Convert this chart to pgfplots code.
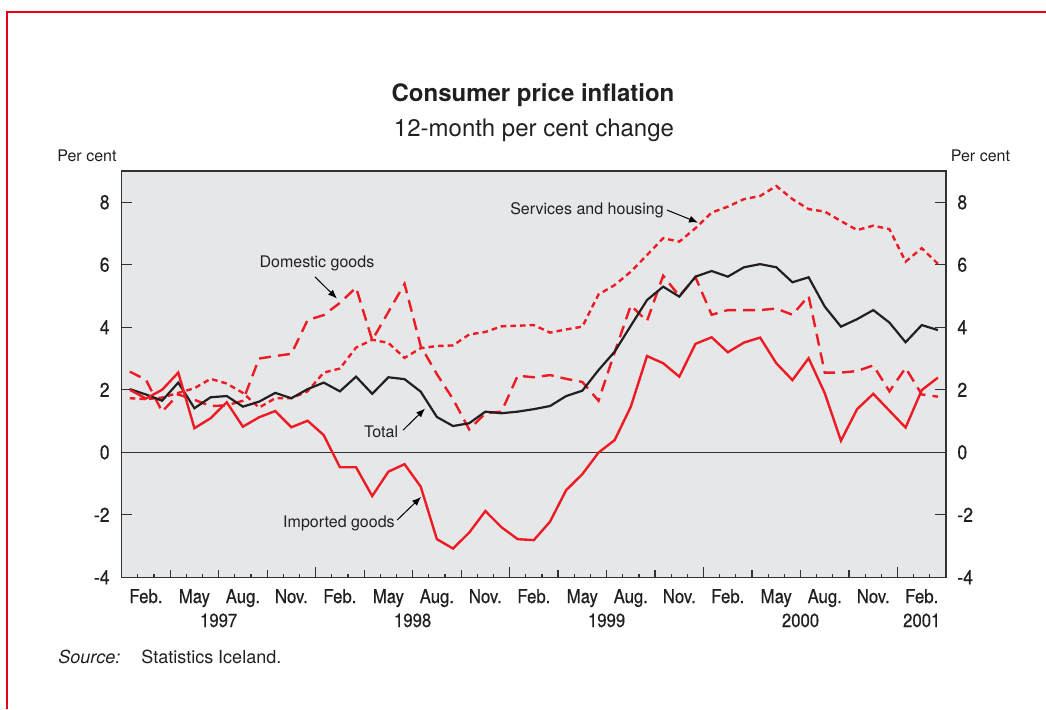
\documentclass[border=0pt]{standalone}
\usepackage{pgfplots}
\usepackage{pgfplotstable}
\pgfplotsset{compat=1.18}
\usepackage{fontspec}
\setmainfont{TeX Gyre Heros}
\newfontfamily\tickfont[FakeStretch=0.88,FakeBold=0.5]{TeX Gyre Heros}
\usetikzlibrary{arrows.meta}
\definecolor{cpired}{RGB}{237,28,36}
\definecolor{bggray}{RGB}{230,231,233}
\definecolor{axisgray}{RGB}{50,50,50}
\definecolor{linegray}{RGB}{35,31,32}
\definecolor{framered}{RGB}{230,0,18}

\pgfplotstableread{
m imp tot ser dom
0 2.00 2.02 1.73 2.58
1 1.72 1.85 1.70 2.32
2 2.00 1.65 1.75 1.30
3 2.55 2.23 1.90 1.85
4 0.77 1.41 2.05 1.68
5 1.09 1.76 2.35 1.48
6 1.60 1.80 2.20 1.50
7 0.82 1.46 1.90 1.65
8 1.12 1.62 1.43 3.00
9 1.32 1.90 1.73 3.08
10 0.80 1.73 1.73 3.15
11 1.01 2.02 1.95 4.23
12 0.55 2.23 2.55 4.39
13 -0.48 1.95 2.68 4.78
14 -0.48 2.42 3.35 5.27
15 -1.40 1.87 3.60 3.59
16 -0.62 2.40 3.50 4.49
17 -0.38 2.34 3.02 5.39
18 -1.10 1.94 3.33 3.40
19 -2.78 1.13 3.40 2.50
20 -3.08 0.84 3.42 1.70
21 -2.57 0.93 3.77 0.73
22 -1.88 1.30 3.85 1.25
23 -2.40 1.25 4.03 1.30
24 -2.78 1.30 4.05 2.45
25 -2.81 1.38 4.07 2.40
26 -2.22 1.48 3.83 2.47
27 -1.21 1.80 3.93 2.35
28 -0.70 1.97 4.02 2.25
29 -0.01 2.63 5.05 1.65
30 0.39 3.22 5.35 3.20
31 1.46 4.05 5.78 4.70
32 3.08 4.87 6.31 4.20
33 2.85 5.30 6.85 5.65
34 2.42 4.98 6.74 5.00
35 3.47 5.62 7.17 5.60
36 3.68 5.80 7.67 4.40
37 3.20 5.62 7.86 4.55
38 3.51 5.92 8.10 4.55
39 3.67 6.02 8.20 4.55
40 2.85 5.92 8.52 4.60
41 2.31 5.44 8.10 4.40
42 3.01 5.60 7.78 5.00
43 1.89 4.66 7.70 2.55
44 0.37 4.02 7.40 2.55
45 1.38 4.26 7.11 2.60
46 1.87 4.55 7.25 2.78
47 1.33 4.15 7.14 1.95
48 0.79 3.52 6.10 2.70
49 1.99 4.07 6.53 1.85
50 2.39 3.91 6.03 1.78
}\cpidata

\begin{document}
\begin{tikzpicture}[x=0.5pt,y=0.5pt,
  lab/.style={font=\tickfont\fontsize{9.5}{11}\selectfont, anchor=base, inner sep=0pt, text=linegray},
  ann/.style={font=\fontsize{8}{10}\selectfont, inner sep=0pt, text=linegray},
  arr/.style={-{Latex[length=4.5pt,width=3.5pt]}, line width=0.5pt, black}]
\path[use as bounding box] (0,0) rectangle (1046,709);
\draw[framered, line width=1.1pt] (7,0) -- (7,697) -- (1046,697);

\node[anchor=base, inner sep=0pt, text=linegray, font=\bfseries\fontsize{12}{14}\selectfont] at (533,608) {Consumer price inflation};
\node[anchor=base, inner sep=0pt, text=linegray, font=\fontsize{12}{14}\selectfont] at (534,573) {12-month per cent change};
\node[anchor=base west, inner sep=0pt, text=linegray, font=\fontsize{8}{10}\selectfont] at (57,547.5) {Per cent};
\node[anchor=base west, inner sep=0pt, text=linegray, font=\fontsize{8}{10}\selectfont] at (950.5,547.5) {Per cent};
\node[anchor=base west, inner sep=0pt, text=linegray, font=\itshape\fontsize{9}{11}\selectfont] at (58,46) {Source:};
\node[anchor=base west, inner sep=0pt, text=linegray, font=\fontsize{9}{11}\selectfont] at (141,46) {Statistics Iceland.};

\begin{axis}[
  at={(60.85pt,65.85pt)}, anchor=south west,
  scale only axis, width=412.15pt, height=203.15pt,
  xmin=0, xmax=51, ymin=-4, ymax=9,
  clip=false,
  axis background/.style={fill=bggray},
  axis line style={axisgray, line width=0.7pt},
  every tick/.style={axisgray, line width=0.6pt},
  tick align=inside,
  xtick={12,24,36,48}, xticklabels={},
  minor xtick={1,...,50},
  extra x ticks={3,6,9,15,18,21,27,30,33,39,42,45},
  extra x tick labels={},
  extra x tick style={major tick length=3.5pt},
  major tick length=5.3pt, minor tick length=1.8pt,
  xtick pos=bottom,
  ytick={-4,-2,0,2,4,6,8},
  yticklabels={-4,-2,0,2,4,6,8},
  ytick pos=both,
  yticklabel pos=left,
  y tick label style={font=\tickfont\fontsize{10}{12}\selectfont, text=linegray, inner sep=0pt, anchor=east, xshift=-5.85pt},
]
\draw[axisgray, line width=0.6pt] (axis cs:0,0) -- (axis cs:51,0);

\addplot[cpired, line width=1.2pt, dash pattern=on 2.8pt off 2pt] table[x expr=\thisrow{m}+0.5,y=ser] {\cpidata};
\addplot[cpired, line width=1.2pt, dash pattern=on 6pt off 3.5pt] table[x expr=\thisrow{m}+0.5,y=dom] {\cpidata};
\addplot[linegray, line width=1.1pt] table[x expr=\thisrow{m}+0.5,y=tot] {\cpidata};
\addplot[cpired, line width=1.2pt] table[x expr=\thisrow{m}+0.5,y=imp] {\cpidata};

\node[ann] at (axis cs:28.79,7.75) {Services and housing};
\draw[arr] (axis cs:33.74,7.75) -- (axis cs:35.66,7.35);
\node[ann] at (axis cs:12.08,6.03) {Domestic goods};
\draw[arr] (axis cs:11.96,5.61) -- (axis cs:13.32,4.92);
\node[ann] at (axis cs:16.05,0.65) {Total};
\draw[arr] (axis cs:17.41,0.71) -- (axis cs:18.77,1.40);
\node[ann] at (axis cs:13.44,-2.29) {Imported goods};
\draw[arr] (axis cs:17.04,-2.17) -- (axis cs:18.52,-1.43);

\node[lab, yshift=-12.85pt] at (axis cs:1.5,-4) {Feb.};
\node[lab, yshift=-12.85pt] at (axis cs:4.5,-4) {May};
\node[lab, yshift=-12.85pt] at (axis cs:7.5,-4) {Aug.};
\node[lab, yshift=-12.85pt] at (axis cs:10.5,-4) {Nov.};
\node[lab, yshift=-12.85pt] at (axis cs:13.5,-4) {Feb.};
\node[lab, yshift=-12.85pt] at (axis cs:16.5,-4) {May};
\node[lab, yshift=-12.85pt] at (axis cs:19.5,-4) {Aug.};
\node[lab, yshift=-12.85pt] at (axis cs:22.5,-4) {Nov.};
\node[lab, yshift=-12.85pt] at (axis cs:25.5,-4) {Feb.};
\node[lab, yshift=-12.85pt] at (axis cs:28.5,-4) {May};
\node[lab, yshift=-12.85pt] at (axis cs:31.5,-4) {Aug.};
\node[lab, yshift=-12.85pt] at (axis cs:34.5,-4) {Nov.};
\node[lab, yshift=-12.85pt] at (axis cs:37.5,-4) {Feb.};
\node[lab, yshift=-12.85pt] at (axis cs:40.5,-4) {May};
\node[lab, yshift=-12.85pt] at (axis cs:43.5,-4) {Aug.};
\node[lab, yshift=-12.85pt] at (axis cs:46.5,-4) {Nov.};
\node[lab, yshift=-12.85pt] at (axis cs:49.5,-4) {Feb.};
\node[lab, yshift=-24.85pt] at (axis cs:6,-4) {1997};
\node[lab, yshift=-24.85pt] at (axis cs:18,-4) {1998};
\node[lab, yshift=-24.85pt] at (axis cs:30,-4) {1999};
\node[lab, yshift=-24.85pt] at (axis cs:42,-4) {2000};
\node[lab, yshift=-24.85pt] at (axis cs:49.5,-4) {2001};
\end{axis}

\begin{axis}[
  at={(60.85pt,65.85pt)}, anchor=south west,
  scale only axis, width=412.15pt, height=203.15pt,
  xmin=0, xmax=51, ymin=-4, ymax=9,
  hide x axis,
  axis y line*=right,
  y axis line style={draw=none},
  ytick={-4,-2,0,2,4,6,8},
  yticklabels={-4,-2,0,2,4,6,8},
  major tick length=0pt,
  y tick label style={font=\tickfont\fontsize{10}{12}\selectfont, text=linegray, inner sep=0pt, anchor=west, xshift=5.5pt},
]
\addplot[draw=none] coordinates {(0,0)};
\end{axis}
\end{tikzpicture}
\end{document}
